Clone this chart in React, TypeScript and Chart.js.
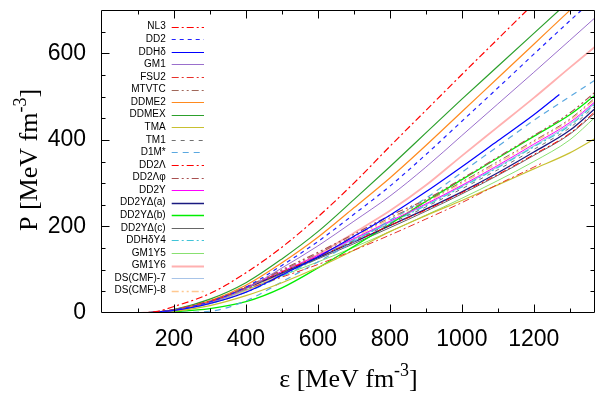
import React, { useEffect, useRef } from 'react';
import { Chart, registerables } from 'chart.js';

Chart.register(...registerables);

// ---- data (epsilon in MeV fm^-3, P in MeV fm^-3) ----
const EPS = [100, 150, 200, 300, 400, 500, 600, 700, 800, 900, 1000, 1100, 1200, 1300, 1370];
const DDHD_EPS = [100, 150, 200, 300, 400, 500, 600, 700, 800, 900, 1000, 1100, 1200, 1271];
const FSU2_EPS = [100, 150, 200, 300, 400, 500, 600, 700, 800, 900, 1000, 1100, 1200, 1222];

const X_TICKS = [200, 400, 600, 800, 1000, 1200];
const Y_TICKS = [0, 200, 400, 600];

const P_NL3 = [0, 3, 15, 45, 93, 152, 222, 300, 385, 468, 551, 633, 715, null, null];
const P_DD2 = [0, 2, 7, 26, 60, 110, 165, 228, 293, 366, 443, 520, 598, 675, 728];
const P_DDHD = [0, 2, 6, 22, 48, 88, 130, 177, 226, 280, 338, 398, 458, 505];
const P_GM1 = [0, 2, 6, 24, 56, 104, 155, 212, 270, 337, 410, 483, 556, 630, 682];
const P_FSU2 = [0, 2, 8, 28, 55, 83, 112, 145, 180, 217, 255, 297, 337, 346];
const P_MTVTC = [0, 2, 8, 28, 60, 98, 137, 178, 220, 258, 303, 350, 398, 448, 497];
const P_DDME2 = [0, 2, 7, 28, 64, 116, 175, 243, 312, 387, 465, 543, 621, 699, 753];
const P_DDMEX = [0, 2, 8, 32, 70, 125, 188, 262, 338, 416, 494, 570, 646, 722, null];
const P_TMA = [0, 1, 4, 17, 40, 70, 105, 145, 188, 225, 260, 296, 333, 370, 403];
const P_TM1 = [0, 2, 8, 28, 58, 94, 130, 167, 206, 245, 287, 331, 378, 428, 478];
const P_D1M = [0, 0, 1, 4, 28, 72, 118, 165, 214, 265, 325, 385, 445, 500, 538];
const P_DD2L = [0, 2, 7, 26, 59, 95, 130, 165, 202, 238, 278, 320, 366, 415, 465];
const P_DD2LPHI = [0, 2, 7, 26, 60, 100, 140, 182, 225, 262, 310, 360, 410, 462, 510];
const P_DD2Y = [0, 2, 7, 26, 59, 96, 133, 172, 212, 252, 295, 341, 390, 440, 488];
const P_DD2YDA = [0, 2, 7, 26, 58, 93, 128, 164, 202, 240, 280, 324, 372, 422, 472];
const P_DD2YDB = [0, 1, 3, 10, 26, 58, 104, 154, 205, 258, 308, 358, 408, 458, 503];
const P_DD2YDC = [0, 2, 7, 26, 57, 91, 125, 160, 197, 235, 275, 318, 364, 413, 462];
const P_DDHDY4 = [0, 2, 6, 22, 48, 85, 126, 168, 208, 248, 291, 336, 384, 433, 483];
const P_GM1Y5 = [0, 2, 6, 24, 53, 86, 118, 152, 188, 226, 265, 306, 350, 400, 452];
const P_GM1Y6 = [0, 2, 6, 22, 50, 92, 135, 185, 236, 295, 363, 430, 497, 567, 615];
const P_DSCMF7 = [0, 1, 5, 22, 52, 90, 130, 170, 210, 250, 293, 338, 386, 436, 485];
const P_DSCMF8 = [0, 1, 6, 24, 55, 93, 133, 175, 217, 256, 300, 346, 395, 445, 494];

const LABELS = ['NL3', 'DD2', 'DDHδ', 'GM1', 'FSU2', 'MTVTC', 'DDME2', 'DDMEX', 'TMA', 'TM1', 'D1M*', 'DD2Λ', 'DD2Λφ', 'DD2Y', 'DD2YΔ(a)', 'DD2YΔ(b)', 'DD2YΔ(c)', 'DDHδY4', 'GM1Y5', 'GM1Y6', 'DS(CMF)-7', 'DS(CMF)-8'];
const SERIES_P = [P_NL3, P_DD2, P_DDHD, P_GM1, P_FSU2, P_MTVTC, P_DDME2, P_DDMEX, P_TMA, P_TM1, P_D1M, P_DD2L, P_DD2LPHI, P_DD2Y, P_DD2YDA, P_DD2YDB, P_DD2YDC, P_DDHDY4, P_GM1Y5, P_GM1Y6, P_DSCMF7, P_DSCMF8];
const SERIES_EPS = [EPS, EPS, DDHD_EPS, EPS, FSU2_EPS, EPS, EPS, EPS, EPS, EPS, EPS, EPS, EPS, EPS, EPS, EPS, EPS, EPS, EPS, EPS, EPS, EPS];

// ---- styles ----
const DASHDOT = [7, 3, 2, 3];
const DASHDOTDOT = [7, 3, 2, 3, 2, 3];
const COLORS = ['#ff0000', '#2222ff', '#0000ff', '#9a6fcc', '#e8302a', '#a0685a', '#ff8a1e', '#2ca02c', '#c8c030', '#707070', '#5aa8e0', '#ff0000', '#a85050', '#ff00ff', '#1a1a80', '#00ee00', '#666666', '#40c4d8', '#88e070', '#ffb0b0', '#a8c4e8', '#ffc890'];
const DASHES = [DASHDOT, [4, 4], [], [], DASHDOT, DASHDOTDOT, [], [], [], [4, 5], [6, 5], DASHDOT, DASHDOTDOT, [], [], [], [], DASHDOT, [], [], [], DASHDOTDOT];
const WIDTHS = [1.2, 1.2, 1.2, 1, 1, 1, 1.2, 1.2, 1.2, 1, 1.2, 1, 1.2, 1, 1.3, 1.3, 1, 1.2, 1, 1.8, 1.2, 1.5];

const SANS = '"Liberation Sans", Arial, Helvetica, sans-serif';
const SERIF = '"Liberation Serif", "Times New Roman", serif';

function drawSupText(ctx: CanvasRenderingContext2D, cx: number, by: number, main: string, sup: string, tail: string, size: number) {
  const fMain = `${size}px ${SERIF}`;
  const fSup = `${Math.round(size * 0.7)}px ${SERIF}`;
  ctx.font = fMain;
  const w1 = ctx.measureText(main).width;
  const w3 = ctx.measureText(tail).width;
  ctx.font = fSup;
  const w2 = ctx.measureText(sup).width;
  const total = w1 + w2 + w3;
  let x = cx - total / 2;
  ctx.textAlign = 'left';
  ctx.textBaseline = 'alphabetic';
  ctx.fillStyle = '#000';
  ctx.font = fMain;
  ctx.fillText(main, x, by);
  x += w1;
  ctx.font = fSup;
  ctx.fillText(sup, x, by - size * 0.42);
  x += w2;
  ctx.font = fMain;
  ctx.fillText(tail, x, by);
}

const decorPlugin = {
  id: 'decor',
  afterDatasetsDraw(chart: any) {
    const { ctx, chartArea, scales } = chart;
    const { left, right, top, bottom } = chartArea;
    const xs = scales.x;
    const ys = scales.y;
    ctx.save();
    ctx.strokeStyle = '#000';
    ctx.lineWidth = 1;
    ctx.setLineDash([]);
    const L = Math.round(left) - 0.5;
    const R = Math.round(right) - 0.5;
    const T = Math.round(top) + 0.5;
    const B = Math.round(bottom) - 0.5;
    ctx.beginPath();
    ctx.rect(L, T, R - L, B - T);
    ctx.stroke();
    ctx.beginPath();
    for (let v = 100; v <= 1300; v += 100) {
      const px = Math.round(xs.getPixelForValue(v)) + 0.5;
      const len = v % 200 === 0 ? 8 : 4;
      ctx.moveTo(px, B); ctx.lineTo(px, B - len);
      ctx.moveTo(px, T); ctx.lineTo(px, T + len);
    }
    for (let v = 50; v < 700; v += 50) {
      const py = Math.round(ys.getPixelForValue(v)) + 0.5;
      const len = v % 200 === 0 ? 8 : 4;
      ctx.moveTo(L, py); ctx.lineTo(L + len, py);
      ctx.moveTo(R, py); ctx.lineTo(R - len, py);
    }
    ctx.stroke();

    // legend
    const ds = chart.data.datasets;
    ctx.font = `10px ${SANS}`;
    ctx.textAlign = 'right';
    ctx.textBaseline = 'middle';
    for (let i = 0; i < ds.length; i++) {
      const yy = 26.7 + i * 12.57;
      ctx.fillStyle = '#000';
      ctx.fillText(ds[i].label, 165.7, yy);
      ctx.strokeStyle = ds[i].borderColor;
      ctx.lineWidth = ds[i].borderWidth;
      ctx.setLineDash(ds[i].borderDash || []);
      ctx.beginPath();
      ctx.moveTo(171.7, Math.round(yy) + 0.5);
      ctx.lineTo(204, Math.round(yy) + 0.5);
      ctx.stroke();
    }
    ctx.setLineDash([]);

    // axis titles
    drawSupText(ctx, 348.5, 387, 'ε [MeV fm', '-3', ']', 26);
    ctx.save();
    ctx.translate(37, 160);
    ctx.rotate(-Math.PI / 2);
    drawSupText(ctx, 0, 0, 'P [MeV fm', '-3', ']', 26);
    ctx.restore();
    ctx.restore();
  },
};

export default function App() {
  const ref = useRef<HTMLCanvasElement | null>(null);
  useEffect(() => {
    if (!ref.current) return;
    const datasets = LABELS.map((label, i) => {
      const eps = SERIES_EPS[i];
      const p = SERIES_P[i];
      const data: { x: number; y: number }[] = [];
      for (let k = 0; k < eps.length; k++) {
        if (p[k] !== null && p[k] !== undefined) data.push({ x: eps[k], y: p[k] as number });
      }
      return {
        label,
        data,
        borderColor: COLORS[i],
        backgroundColor: COLORS[i],
        borderDash: DASHES[i],
        borderWidth: WIDTHS[i],
        pointRadius: 0,
        fill: false,
        cubicInterpolationMode: 'monotone' as const,
      };
    });
    const chart = new Chart(ref.current, {
      type: 'line',
      data: { datasets },
      options: {
        responsive: false,
        animation: false,
        parsing: false as any,
        layout: { padding: { top: 10, right: 0, left: 0, bottom: 0 } },
        plugins: { legend: { display: false }, tooltip: { enabled: false } },
        events: [],
        scales: {
          x: {
            type: 'linear',
            min: 0,
            max: 1370,
            grid: { display: false, drawTicks: false },
            border: { display: false },
            afterBuildTicks: (s: any) => { s.ticks = X_TICKS.map((v) => ({ value: v })); },
            afterFit: (s: any) => { s.height = 82; s.paddingLeft = 0; s.paddingRight = 0; },
            ticks: {
              padding: 13,
              color: '#000',
              maxRotation: 0,
              minRotation: 0,
              autoSkip: false,
              font: { family: SANS, size: 23 },
              callback: (v: any) => String(v),
            },
          },
          y: {
            type: 'linear',
            min: 0,
            max: 700,
            grid: { display: false, drawTicks: false },
            border: { display: false },
            afterBuildTicks: (s: any) => { s.ticks = Y_TICKS.map((v) => ({ value: v })); },
            afterFit: (s: any) => { s.width = 102; s.paddingTop = 0; s.paddingBottom = 0; },
            ticks: {
              padding: 16,
              color: '#000',
              autoSkip: false,
              font: { family: SANS, size: 23 },
              callback: (v: any) => String(v),
            },
          },
        },
      },
      plugins: [decorPlugin],
    });
    return () => chart.destroy();
  }, []);
  return (
    <div style={{ position: 'fixed', left: 0, top: 0, width: 595, height: 395, background: '#fff' }}>
      <canvas ref={ref} width={595} height={395} style={{ display: 'block' }} />
    </div>
  );
}
